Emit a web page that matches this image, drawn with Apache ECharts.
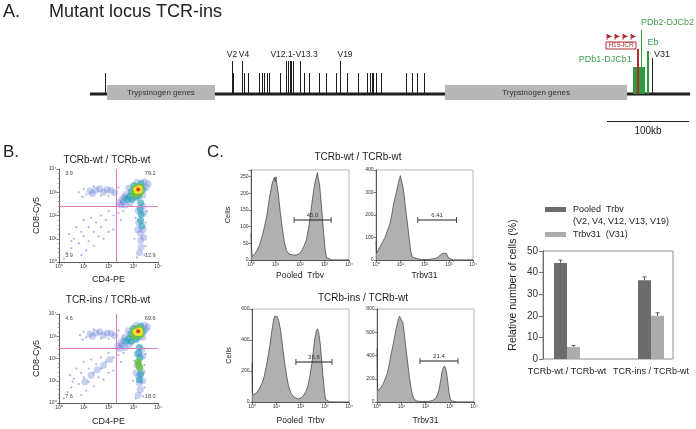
<!DOCTYPE html>
<html>
<head>
<meta charset="utf-8">
<script src="https://cdn.jsdelivr.net/npm/echarts@6.0.0/dist/echarts.min.js"></script>
<style>
html,body{margin:0;padding:0;background:#ffffff;}
#chart{width:696px;height:429px;}
</style>
</head>
<body>
<div id="chart"></div>
<script>
// ===================== DATA =====================
// Panel A – mutant TCRb locus (positions in kb from left end of drawn locus)
const locusSpanKb = [0, 731.7];
const trypsinogenKb = [[20.7, 152.4], [432.9, 654.9]];
const trypsinogenLabel = 'Trypsinogen genes';
const shortTickKb = [18.3, 175.6, 189.0, 192.7, 207.3, 209.8, 213.4, 215.9, 219.5, 232.9, 261.0, 267.1, 279.3, 289.0, 301.2, 314.6, 328.0, 339.0, 341.5, 343.9, 346.3, 348.8, 354.9, 385.4, 392.7, 398.8, 408.5];
const tallTickKb = [173.2, 185.4, 240.2, 242.1, 243.9, 245.7, 247.6, 256.1, 304.9];
const vLabels = ['V2', 'V4', 'V12.1-V13.3', 'V19'];
const vLabelKb = [173.2, 187.8, 248.8, 311.0];
const pdb1BlockKb = [662.2, 676.8];
const pdb2Kb = 672.0;
const h19LineKb = 668.3;
const ebKb = 680.5;
const v31Kb = 685.4;
const h19BoxKb = [629.3, 665.9];
const h19FlagsKb = [630.5, 640.2, 650.0, 659.8];
const scaleBarKb = [630.5, 730.5];
const scaleBarLabel = '100kb';

// Panel B – CD4 / CD8 flow plots (log10 CD4, log10 CD8, density level 0-5)
const scatterWt = [
 [0.2,0.15,0],[0.3,0.4,0],[0.5,0.6,0],[0.6,1.0,0],[0.8,0.8,0],[0.9,1.3,0],[1.0,1.1,0],[1.2,0.9,0],[1.2,1.5,0],[1.4,1.3,0],[1.5,1.7,0],[1.7,1.5,0],[1.7,2.0,0],[1.9,1.8,0],[2.0,2.2,0],[2.2,2.0,0],[1.1,0.5,0],[0.7,1.5,0],[1.4,0.7,0],[2.2,1.4,0],[1.8,1.0,0],[2.5,1.8,0],[2.6,2.2,0],[0.4,1.2,0],[1.0,1.8,0],[2.3,2.4,0],[0.9,0.3,0],[1.6,1.1,0],[1.3,1.9,0],[2.0,1.3,0],[0.5,0.9,0],[2.4,2.1,0],
 [0.8,3.0,0],[1.0,3.15,0],[1.1,2.9,0],[2.4,3.2,0],[0.95,2.8,0],[1.7,2.85,0],[1.4,3.25,0],[2.0,2.85,0],[1.25,3.05,1],[1.5,3.1,1],[1.8,3.0,1],[2.1,3.08,1],[1.35,2.95,1],[1.65,3.15,1],[1.95,3.12,1],[2.25,2.98,1],
 [3.1,1.9,0],[3.5,1.7,0],[3.55,2.2,0],[3.05,1.0,0],[3.5,0.7,0],[3.15,0.2,0],[3.45,0.3,0],[3.28,1.25,1],[3.3,0.95,1],[3.32,0.65,1],[3.2,2.2,1],[3.42,2.1,1],[3.4,1.4,1],[3.22,1.7,1],[3.42,1.05,1],[3.25,0.4,1],[3.4,2.4,1],[3.18,1.4,1],[3.3,2.55,2],[3.28,2.3,2],[3.32,2.05,2],[3.3,1.8,2],[3.35,1.55,2],
 [2.6,2.6,1],[2.7,2.9,1],[2.5,2.45,1],[2.42,2.55,1],[3.45,3.45,1],[3.52,3.22,1],[2.82,3.18,1],[3.38,2.88,1],[2.65,2.78,1],[2.55,2.7,1],[2.88,2.55,1],[3.15,3.42,1],[2.68,2.45,1],[3.6,3.35,1],
 [2.85,2.82,2],[2.92,3.02,2],[3.22,2.85,2],[3.4,3.12,2],[3.32,3.38,2],[2.75,2.7,2],[3.02,3.28,2],[3.12,2.78,2],[2.95,2.7,2],
 [3.02,2.95,3],[3.32,3.22,3],[3.05,3.15,3],[3.28,2.98,3],[3.18,3.25,3],[3.1,2.9,3],
 [3.15,3.05,4],[3.25,3.17,4],[3.12,3.12,4],[3.26,3.06,4],
 [3.2,3.12,5]
];
const scatterIns = [
 [0.2,0.2,0],[0.35,0.5,0],[0.5,0.7,0],[0.6,1.1,0],[0.8,0.85,0],[0.9,1.35,0],[1.0,1.15,0],[1.2,0.95,0],[1.2,1.55,0],[1.4,1.35,0],[1.5,1.75,0],[1.7,1.55,0],[1.7,2.05,0],[1.9,1.85,0],[2.0,2.25,0],[2.2,2.05,0],[1.1,0.55,0],[0.7,1.55,0],[1.4,0.75,0],[2.2,1.45,0],[1.8,1.05,0],[2.5,1.85,0],[2.6,2.25,0],[0.45,1.25,0],[1.0,1.85,0],[2.3,2.45,0],[0.9,0.35,0],[1.6,1.15,0],[1.3,1.95,0],[2.0,1.35,0],[0.55,0.95,0],[2.4,2.15,0],[1.3,1.25,1],[1.55,1.5,1],[1.8,1.7,1],[1.05,0.95,1],[2.05,1.95,1],
 [0.85,3.05,0],[1.0,3.2,0],[1.1,2.95,0],[2.4,3.25,0],[0.95,2.85,0],[1.7,2.9,0],[1.4,3.3,0],[2.0,2.9,0],[1.25,3.1,1],[1.5,3.15,1],[1.8,3.05,1],[2.1,3.12,1],[1.35,3.0,1],[1.65,3.2,1],[1.95,3.15,1],[2.25,3.02,1],
 [3.05,1.9,0],[3.45,1.7,0],[3.5,2.2,0],[3.0,1.0,0],[3.45,0.7,0],[3.1,0.2,0],[3.4,0.3,0],[3.22,1.2,1],[3.25,0.9,1],[3.28,0.6,1],[3.15,2.2,1],[3.38,2.1,1],[3.35,1.4,1],[3.15,1.7,1],[3.38,1.0,1],[3.2,0.35,1],[3.35,2.4,1],[3.12,1.35,1],[3.25,2.5,2],[3.22,2.25,2],[3.27,2.05,2],[3.25,1.05,2],[3.3,1.3,2],[3.2,1.85,3],[3.26,1.6,3],[3.22,1.72,3],
 [2.55,2.6,1],[2.65,2.95,1],[2.45,2.45,1],[2.38,2.55,1],[3.45,3.5,1],[3.5,3.3,1],[2.8,3.25,1],[3.38,2.95,1],[2.62,2.82,1],[2.5,2.72,1],[2.85,2.62,1],[3.12,3.5,1],[2.66,2.5,1],[3.58,3.42,1],
 [2.82,2.9,2],[2.9,3.1,2],[3.2,2.95,2],[3.4,3.2,2],[3.3,3.45,2],[2.72,2.78,2],[3.0,3.35,2],[3.1,2.85,2],[2.92,2.78,2],
 [3.0,3.05,3],[3.3,3.32,3],[3.05,3.25,3],[3.3,3.08,3],[3.15,3.35,3],[3.1,3.0,3],
 [3.15,3.15,4],[3.25,3.27,4],[3.1,3.2,4],[3.27,3.15,4],
 [3.2,3.22,5]
];
const quadGateWt = [2.34, 2.37];
const quadGateIns = [2.34, 2.43];
const quadPctWt = ['3.9', '79.2', '3.9', '12.9'];
const quadPctIns = ['4.6', '69.6', '7.6', '18.0'];

// Panel C – histograms (log10 fluorescence, cell count)
const histPooledWt = [[0,80],[0.02,40],[0.05,10],[0.15,18],[0.25,30],[0.35,45],[0.45,70],[0.55,100],[0.65,135],[0.75,185],[0.85,225],[0.9,238],[0.93,232],[0.96,248],[0.99,235],[1.02,250],[1.06,225],[1.12,195],[1.2,140],[1.28,95],[1.36,55],[1.45,28],[1.55,18],[1.7,15],[1.85,15],[1.95,18],[2.05,25],[2.15,40],[2.25,58],[2.35,95],[2.45,150],[2.55,205],[2.62,235],[2.68,252],[2.71,262],[2.74,248],[2.8,225],[2.88,160],[2.95,95],[3.02,35],[3.08,8],[3.15,2],[3.3,0],[4,0]];
const histTrbv31Wt = [[0,85],[0.02,30],[0.05,25],[0.17,60],[0.27,80],[0.37,100],[0.47,130],[0.57,160],[0.65,200],[0.71,240],[0.78,275],[0.84,300],[0.9,330],[0.95,355],[0.98,365],[1.0,375],[1.03,362],[1.08,355],[1.12,320],[1.17,280],[1.23,220],[1.3,160],[1.37,95],[1.43,40],[1.5,12],[1.56,5],[1.8,3],[2.1,2],[2.3,4],[2.45,7],[2.55,12],[2.65,22],[2.76,30],[2.84,33],[2.9,30],[2.95,18],[3.0,8],[3.07,2],[3.2,0],[4,0]];
const histPooledIns = [[0,250],[0.02,60],[0.05,45],[0.12,50],[0.2,60],[0.3,85],[0.41,120],[0.5,165],[0.59,230],[0.67,300],[0.75,380],[0.82,460],[0.89,530],[0.94,555],[0.99,562],[1.04,550],[1.1,525],[1.17,470],[1.23,400],[1.3,310],[1.37,230],[1.44,160],[1.51,100],[1.6,60],[1.71,35],[1.82,25],[1.92,20],[2.02,28],[2.12,40],[2.21,65],[2.3,100],[2.38,160],[2.47,250],[2.53,330],[2.58,400],[2.64,450],[2.7,472],[2.75,450],[2.81,380],[2.87,280],[2.92,180],[2.97,100],[3.01,40],[3.05,15],[3.1,4],[3.2,0],[4,0]];
const histTrbv31Ins = [[0,460],[0.02,120],[0.05,95],[0.12,110],[0.24,150],[0.33,195],[0.43,250],[0.51,330],[0.59,420],[0.67,500],[0.76,600],[0.83,670],[0.89,720],[0.93,738],[0.96,742],[1.0,725],[1.07,680],[1.13,580],[1.2,450],[1.27,330],[1.33,220],[1.4,130],[1.46,60],[1.53,25],[1.62,10],[1.8,5],[2.0,4],[2.14,6],[2.28,12],[2.41,30],[2.5,65],[2.57,120],[2.63,190],[2.67,250],[2.72,290],[2.78,310],[2.83,290],[2.87,250],[2.92,170],[2.97,80],[3.02,30],[3.07,10],[3.15,2],[3.3,0],[4,0]];
const histYMax = [270, 400, 600, 800];
const histYInterval = [50, 100, 200, 200];
const gateRanges = [[1.76,3.27,119],[1.72,3.32,178],[1.81,3.30,258],[1.77,3.34,353]];
const gateValues = ['45.0', '6.41', '36.6', '21.4'];

// Bar chart – relative number of cells (%)
const barCategories = ['TCRb-wt / TCRb-wt', 'TCR-ins / TCRb-wt'];
const pooledTrbv = [44.5, 36.5];
const pooledTrbvErr = [1.3, 1.5];
const trbv31 = [5.6, 20.0];
const trbv31Err = [0.7, 1.4];

// ===================== RENDERING =====================
const FONT = '"Liberation Sans", Arial, Helvetica, sans-serif';
const SUP = ['\u2070', '\u00b9', '\u00b2', '\u00b3', '\u2074'];
const logFmt = v => (Math.abs(v - Math.round(v)) < 1e-6 && v >= 0 && v <= 4) ? '10' + SUP[Math.round(v)] : '';
const crisp = (v, lw) => (Math.round(lw) % 2 === 1 ? Math.round(v - 0.5) + 0.5 : Math.round(v));

function tstyle(text, size, color, align, valign, weight) {
  return { text: text, fill: color, font: (weight ? weight + ' ' : '') + size + 'px ' + FONT,
           align: align, verticalAlign: valign, textAlign: align, textVerticalAlign: valign };
}
function lineSeries(ax, items, color, lw, z) {
  return { type: 'custom', xAxisIndex: ax, yAxisIndex: ax, silent: true, clip: false, z: z, data: items,
    renderItem: (p, api) => {
      const a = api.coord([api.value(0), api.value(1)]);
      const b = api.coord([api.value(2), api.value(3)]);
      let x1 = a[0], x2 = b[0], y1 = a[1], y2 = b[1];
      if (Math.abs(x1 - x2) < 0.01) { x1 = x2 = crisp(x1, lw); }
      if (Math.abs(y1 - y2) < 0.01) { y1 = y2 = crisp(y1, lw); }
      return { type: 'line', shape: { x1: x1, y1: y1, x2: x2, y2: y2 }, style: { stroke: color, lineWidth: lw } };
    } };
}
function rectSeries(ax, items, fill, stroke, lw, z) {
  return { type: 'custom', xAxisIndex: ax, yAxisIndex: ax, silent: true, clip: false, z: z, data: items,
    renderItem: (p, api) => {
      const a = api.coord([api.value(0), api.value(1)]);
      const b = api.coord([api.value(2), api.value(3)]);
      return { type: 'rect', shape: { x: Math.min(a[0], b[0]), y: Math.min(a[1], b[1]), width: Math.abs(b[0] - a[0]), height: Math.abs(b[1] - a[1]) },
               style: { fill: fill, stroke: stroke || null, lineWidth: lw || 0 } };
    } };
}
function textSeries(ax, items, texts, size, color, align, valign, z) {
  return { type: 'custom', xAxisIndex: ax, yAxisIndex: ax, silent: true, clip: false, z: z || 5, data: items,
    renderItem: (p, api) => {
      const a = api.coord([api.value(0), api.value(1)]);
      return { type: 'text', x: a[0], y: a[1], style: tstyle(texts[p.dataIndex], size, color, align, valign) };
    } };
}

const GREEN = '#2f9a3f', GREEN_T = '#3f9e4c', RED = '#b22a2e';
const series = [];

// ---- Panel A (axis 0) ----
series.push(rectSeries(0, [[locusSpanKb[0], -1.5, locusSpanKb[1], 1.5]], '#1e1e1e', null, 0, 2));
series.push(rectSeries(0, trypsinogenKb.map(r => [r[0], -6, r[1], 9]), '#b6b6b6', null, 0, 3));
series.push(textSeries(0, trypsinogenKb.map(r => [(r[0] + r[1]) / 2, 1.5]), trypsinogenKb.map(() => trypsinogenLabel), 8, '#333', 'center', 'middle', 4));
series.push(lineSeries(0, shortTickKb.map(k => [k, 0, k, 21]), '#1e1e1e', 1, 3));
series.push(lineSeries(0, tallTickKb.map(k => [k, 0, k, 33]), '#1e1e1e', 1, 3));
series.push(textSeries(0, vLabelKb.map(k => [k, 39]), vLabels, 8.5, '#222', 'center', 'middle'));
series.push(rectSeries(0, [[pdb1BlockKb[0], 0, pdb1BlockKb[1], 27]], GREEN, null, 0, 3));
series.push(lineSeries(0, [[pdb2Kb, 0, pdb2Kb, 64]], GREEN, 1, 4));
series.push(lineSeries(0, [[h19LineKb, 0, h19LineKb, 45]], RED, 2, 5));
series.push(lineSeries(0, [[ebKb, 0, ebKb, 43]], GREEN, 2, 4));
series.push(lineSeries(0, [[v31Kb, 0, v31Kb, 36]], '#222', 1, 4));
series.push(rectSeries(0, [[h19BoxKb[0], 45, h19BoxKb[1], 52]], '#fff', RED, 1, 5));
series.push(textSeries(0, [[(h19BoxKb[0] + h19BoxKb[1]) / 2, 48.5]], ['H19-ICR'], 6.5, RED, 'center', 'middle', 6));
series.push({ type: 'custom', xAxisIndex: 0, yAxisIndex: 0, silent: true, clip: false, z: 6,
  data: h19FlagsKb.map(k => [k, 54]),
  renderItem: (p, api) => {
    const a = api.coord([api.value(0), api.value(1)]);
    return { type: 'group', children: [
      { type: 'line', shape: { x1: a[0], y1: a[1], x2: a[0], y2: a[1] - 6 }, style: { stroke: RED, lineWidth: 0.8 } },
      { type: 'polygon', shape: { points: [[a[0], a[1] - 6], [a[0] + 5, a[1] - 3.5], [a[0], a[1] - 1.5]] }, style: { fill: RED } }
    ] };
  } });
series.push(textSeries(0, [[pdb2Kb, 71]], ['PDb2-DJCb2'], 9, GREEN_T, 'left', 'middle'));
series.push(textSeries(0, [[ebKb - 0.5, 51]], ['Eb'], 9, GREEN_T, 'left', 'middle'));
series.push(textSeries(0, [[v31Kb + 2.5, 39]], ['V31'], 9, '#222', 'left', 'middle'));
series.push(textSeries(0, [[pdb1BlockKb[0] - 1.5, 34]], ['PDb1-DJCb1'], 9, GREEN_T, 'right', 'middle'));
series.push(lineSeries(0, [[scaleBarKb[0], -27, scaleBarKb[1], -27]], '#222', 1, 3));
series.push(textSeries(0, [[(scaleBarKb[0] + scaleBarKb[1]) / 2, -37]], [scaleBarLabel], 10, '#222', 'center', 'middle'));

// ---- Panel B (axes 1,2) ----
const LEVEL_COLOR = ['#6f84dc', '#4d66cc', '#2ba0b8', '#6cc046', '#f1e12f', '#e33b1c'];
const LEVEL_SIZE = [2.2, 7, 7, 7, 6, 4];
const LEVEL_OPA = [0.6, 0.3, 0.65, 0.85, 0.95, 1];
function flowSeries(ax, pts) {
  const sorted = pts.slice().sort((a, b) => a[2] - b[2]);
  return { type: 'scatter', xAxisIndex: ax, yAxisIndex: ax, silent: true, z: 2,
    data: sorted.map(p => ({ value: [p[0], p[1]], symbolSize: LEVEL_SIZE[p[2]],
      itemStyle: { color: LEVEL_COLOR[p[2]], opacity: LEVEL_OPA[p[2]] } })) };
}
series.push(flowSeries(1, scatterWt));
series.push(flowSeries(2, scatterIns));
[[1, quadGateWt, quadPctWt], [2, quadGateIns, quadPctIns]].forEach(([ax, gate, pct]) => {
  series.push(lineSeries(ax, [[gate[0], 0, gate[0], 4], [0, gate[1], 4, gate[1]]], '#e07cc0', 1, 3));
  series.push(textSeries(ax, [[0.25, 3.8], [0.25, 0.3]], [pct[0], pct[2]], 5.5, '#444', 'left', 'middle'));
  series.push(textSeries(ax, [[3.9, 3.8], [3.9, 0.3]], [pct[1], pct[3]], 5.5, '#444', 'right', 'middle'));
});

// ---- Panel C (axes 3..6) ----
[histPooledWt, histTrbv31Wt, histPooledIns, histTrbv31Ins].forEach((d, i) => {
  series.push({ type: 'line', xAxisIndex: 3 + i, yAxisIndex: 3 + i, data: d, symbol: 'none', silent: true,
    lineStyle: { color: '#3a3a3a', width: 0.7 }, areaStyle: { color: '#b0b0b0', opacity: 1 }, z: 2 });
  series.push({ type: 'custom', xAxisIndex: 3 + i, yAxisIndex: 3 + i, silent: true, clip: false, z: 5,
    data: [gateRanges[i]],
    renderItem: (p, api) => {
      const a = api.coord([api.value(0), api.value(2)]);
      const b = api.coord([api.value(1), api.value(2)]);
      const y = Math.round(a[1]);
      return { type: 'group', children: [
        { type: 'line', shape: { x1: a[0], y1: y, x2: b[0], y2: y }, style: { stroke: '#222', lineWidth: 1.2 } },
        { type: 'line', shape: { x1: a[0], y1: y - 3, x2: a[0], y2: y + 3 }, style: { stroke: '#222', lineWidth: 0.8 } },
        { type: 'line', shape: { x1: b[0], y1: y - 3, x2: b[0], y2: y + 3 }, style: { stroke: '#222', lineWidth: 0.8 } },
        { type: 'text', x: (a[0] + b[0]) / 2, y: y - 4.5, style: tstyle(gateValues[i], 6, '#333', 'center', 'middle') }
      ] };
    } });
});

// ---- Bar chart (axes 7 frame, 8 bars) ----
series.push({ type: 'bar', name: 'Pooled  Trbv', xAxisIndex: 8, yAxisIndex: 8, data: pooledTrbv, barWidth: 13, barGap: '0%',
  itemStyle: { color: '#6c6c6c' }, silent: true, z: 2 });
series.push({ type: 'bar', name: 'Trbv31  (V31)', xAxisIndex: 8, yAxisIndex: 8, data: trbv31, barWidth: 13, barGap: '0%',
  itemStyle: { color: '#acacac' }, silent: true, z: 2 });
function errSeries(vals, errs, side) {
  return { type: 'custom', xAxisIndex: 8, yAxisIndex: 8, silent: true, clip: false, z: 4,
    data: vals.map((v, i) => [i, v, v + errs[i]]),
    renderItem: (p, api) => {
      const a = api.coord([api.value(0), api.value(1)]);
      const b = api.coord([api.value(0), api.value(2)]);
      const x = a[0] + side * 6.5;
      return { type: 'group', children: [
        { type: 'line', shape: { x1: x, y1: a[1], x2: x, y2: b[1] }, style: { stroke: '#333', lineWidth: 0.8 } },
        { type: 'line', shape: { x1: x - 2, y1: b[1], x2: x + 2, y2: b[1] }, style: { stroke: '#333', lineWidth: 0.8 } }
      ] };
    } };
}
series.push(errSeries(pooledTrbv, pooledTrbvErr, -1));
series.push(errSeries(trbv31, trbv31Err, 1));

// ---- grids & axes ----
const grids = [
  { left: 90, top: 14, width: 600, height: 120 },
  { left: 59, top: 169, width: 99, height: 93 },
  { left: 59, top: 314, width: 99, height: 89 },
  { left: 251, top: 170, width: 98, height: 90, show: true, borderColor: '#9a9a9a', borderWidth: 0.7 },
  { left: 376, top: 170, width: 97, height: 90, show: true, borderColor: '#9a9a9a', borderWidth: 0.7 },
  { left: 252, top: 309, width: 97, height: 93, show: true, borderColor: '#9a9a9a', borderWidth: 0.7 },
  { left: 377, top: 309, width: 97, height: 93, show: true, borderColor: '#9a9a9a', borderWidth: 0.7 },
  { left: 543, top: 251, width: 130, height: 108, show: true, borderColor: '#777', borderWidth: 0.8 },
  { left: 525, top: 251, width: 168, height: 108 }
].map(g => Object.assign({ containLabel: false, outerBoundsMode: 'none' }, g));

function logX(gi, name, gap) {
  return { type: 'value', gridIndex: gi, min: 0, max: 4, interval: 1, name: name, nameLocation: 'middle', nameGap: gap,
    nameTextStyle: { fontSize: gi <= 2 ? 9 : 8.5, color: '#222', fontFamily: FONT },
    axisLine: { show: true, onZero: false, lineStyle: { color: '#333', width: 0.8 } },
    axisTick: { show: true, length: 2.5, lineStyle: { color: '#333', width: 0.6 } },
    minorTick: { show: true, splitNumber: 5, length: 1.3, lineStyle: { color: '#666', width: 0.5 } },
    axisLabel: { fontSize: 5, color: '#333', margin: 2.5, formatter: logFmt, fontFamily: FONT },
    splitLine: { show: false } };
}
function logY(gi, name) {
  return { type: 'value', gridIndex: gi, min: 0, max: 4, interval: 1, name: name, nameLocation: 'middle', nameGap: 18,
    nameTextStyle: { fontSize: 9, color: '#222', fontFamily: FONT },
    axisLine: { show: true, onZero: false, lineStyle: { color: '#333', width: 0.8 } },
    axisTick: { show: true, length: 2.5, lineStyle: { color: '#333', width: 0.6 } },
    minorTick: { show: true, splitNumber: 5, length: 1.3, lineStyle: { color: '#666', width: 0.5 } },
    axisLabel: { fontSize: 5, color: '#333', margin: 2.5, formatter: logFmt, fontFamily: FONT },
    splitLine: { show: false } };
}
function countY(gi, i, name) {
  const iv = histYInterval[i];
  return { type: 'value', gridIndex: gi, min: 0, max: histYMax[i], interval: iv, name: name || '', nameLocation: 'middle', nameGap: 19,
    nameTextStyle: { fontSize: 7.5, color: '#222', fontFamily: FONT },
    axisLine: { show: true, onZero: false, lineStyle: { color: '#333', width: 0.8 } },
    axisTick: { show: true, length: 2.5, lineStyle: { color: '#333', width: 0.6 } },
    axisLabel: { fontSize: 5, color: '#333', margin: 2.5, fontFamily: FONT, formatter: v => (v % iv === 0 ? String(v) : '') },
    splitLine: { show: false } };
}

const xAxes = [
  { type: 'value', gridIndex: 0, min: locusSpanKb[0], max: locusSpanKb[1], show: false },
  logX(1, 'CD4-PE', 13),
  logX(2, 'CD4-PE', 14),
  logX(3, 'Pooled  Trbv', 11),
  logX(4, 'Trbv31', 11),
  logX(5, 'Pooled  Trbv', 14),
  logX(6, 'Trbv31', 14),
  { type: 'value', gridIndex: 7, min: 0, max: 1, show: false },
  { type: 'category', gridIndex: 8, data: barCategories, axisLine: { show: false }, axisTick: { show: false },
    axisLabel: { fontSize: 9, color: '#222', margin: 8, fontFamily: FONT, interval: 0 } }
];
const yAxes = [
  { type: 'value', gridIndex: 0, min: -40, max: 80, show: false },
  logY(1, 'CD8-Cy5'),
  logY(2, 'CD8-Cy5'),
  countY(3, 0, 'Cells'),
  countY(4, 1),
  countY(5, 2, 'Cells'),
  countY(6, 3),
  { type: 'value', gridIndex: 7, min: 0, max: 50, interval: 10,
    axisLine: { show: true, lineStyle: { color: '#555', width: 0.8 } },
    axisTick: { show: true, length: 4, lineStyle: { color: '#555', width: 0.8 } },
    axisLabel: { fontSize: 10, color: '#333', margin: 5, fontFamily: FONT },
    splitLine: { show: false } },
  { type: 'value', gridIndex: 8, min: 0, max: 50, show: false }
];

function gtext(x, y, text, size, color, align, valign, rot) {
  return { type: 'text', x: x, y: y, rotation: rot || 0, silent: true, style: tstyle(text, size, color, align, valign) };
}
const graphics = [
  gtext(3, 12, 'A.', 18, '#222', 'left', 'middle'),
  gtext(49, 12, 'Mutant locus TCR-ins', 18, '#222', 'left', 'middle'),
  gtext(3, 152, 'B.', 17, '#222', 'left', 'middle'),
  gtext(207, 152, 'C.', 17, '#222', 'left', 'middle'),
  gtext(107, 160, 'TCRb-wt / TCRb-wt', 10, '#222', 'center', 'middle'),
  gtext(108, 300, 'TCR-ins / TCRb-wt', 10, '#222', 'center', 'middle'),
  gtext(358, 157, 'TCRb-wt / TCRb-wt', 10, '#222', 'center', 'middle'),
  gtext(363, 298, 'TCRb-ins / TCRb-wt', 10, '#222', 'center', 'middle'),
  gtext(513, 285, 'Relative number of cells (%)', 10.5, '#222', 'center', 'middle', Math.PI / 2),
  { type: 'rect', shape: { x: 545, y: 207, width: 21, height: 5 }, style: { fill: '#6c6c6c' }, silent: true },
  { type: 'rect', shape: { x: 545, y: 232, width: 21, height: 5 }, style: { fill: '#acacac' }, silent: true },
  gtext(573, 209.5, 'Pooled  Trbv', 9, '#222', 'left', 'middle'),
  gtext(573, 222, '(V2, V4, V12, V13, V19)', 9, '#222', 'left', 'middle'),
  gtext(573, 234.5, 'Trbv31  (V31)', 9, '#222', 'left', 'middle')
];

const chart = echarts.init(document.getElementById('chart'), null, { renderer: 'canvas', width: 696, height: 429 });
chart.setOption({
  backgroundColor: '#ffffff',
  animation: false,
  textStyle: { fontFamily: FONT },
  grid: grids,
  xAxis: xAxes,
  yAxis: yAxes,
  series: series,
  graphic: graphics
});
</script>
</body>
</html>
